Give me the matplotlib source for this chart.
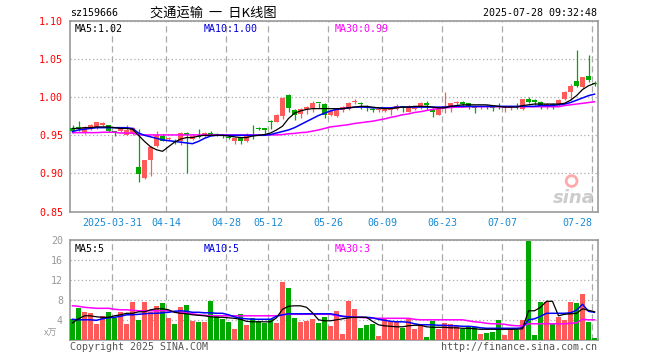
import matplotlib
matplotlib.use('Agg')
import matplotlib.pyplot as plt

# daily K-line for sz159666, 2025-03-20 .. 2025-07-28 (88 trading days)
opens = [0.959, 0.961, 0.954, 0.958, 0.961, 0.963, 0.963, 0.955, 0.955, 0.951,
         0.952, 0.908, 0.894, 0.917, 0.936, 0.949, 0.945, 0.943, 0.943, 0.953,
         0.945, 0.949, 0.950, 0.953, 0.952, 0.950, 0.948, 0.943, 0.947, 0.942,
         0.960, 0.960, 0.960, 0.969, 0.968, 0.975, 1.003, 0.983, 0.978, 0.985,
         0.986, 0.993, 0.991, 0.976, 0.975, 0.983, 0.984, 0.994, 0.992, 0.989,
         0.985, 0.983, 0.982, 0.983, 0.985, 0.988, 0.981, 0.985, 0.988, 0.993,
         0.983, 0.977, 0.986, 0.987, 0.992, 0.994, 0.992, 0.988, 0.987, 0.989,
         0.987, 0.988, 0.986, 0.986, 0.988, 0.985, 0.997, 0.996, 0.994, 0.987,
         0.991, 0.990, 0.997, 1.007, 1.021, 1.013, 1.028, 1.019]
highs = [0.963, 0.969, 0.962, 0.965, 0.968, 0.967, 0.964, 0.955, 0.960, 0.963,
         0.961, 0.958, 0.918, 0.936, 0.955, 0.952, 0.948, 0.945, 0.954, 0.954,
         0.952, 0.958, 0.954, 0.956, 0.953, 0.951, 0.949, 0.948, 0.948, 0.953,
         0.964, 0.961, 0.960, 0.970, 0.978, 1.000, 1.004, 0.984, 0.986, 0.989,
         0.995, 0.993, 0.992, 0.983, 0.985, 0.989, 0.994, 0.998, 0.994, 0.990,
         0.986, 0.987, 0.985, 0.986, 0.991, 0.989, 0.990, 0.989, 0.994, 0.995,
         0.987, 0.986, 1.007, 0.993, 0.995, 0.995, 0.993, 0.989, 0.989, 0.990,
         0.988, 0.993, 0.988, 0.988, 0.993, 0.998, 1.000, 0.997, 0.995, 0.992,
         0.992, 0.997, 1.008, 1.017, 1.062, 1.027, 1.056, 1.021]
lows = [0.953, 0.956, 0.952, 0.957, 0.958, 0.962, 0.954, 0.949, 0.954, 0.950,
        0.950, 0.889, 0.893, 0.896, 0.935, 0.942, 0.944, 0.938, 0.937, 0.900,
        0.944, 0.947, 0.948, 0.950, 0.949, 0.947, 0.945, 0.939, 0.939, 0.941,
        0.945, 0.957, 0.953, 0.958, 0.967, 0.972, 0.981, 0.970, 0.973, 0.978,
        0.981, 0.986, 0.973, 0.975, 0.974, 0.980, 0.983, 0.991, 0.985, 0.982,
        0.980, 0.981, 0.980, 0.977, 0.983, 0.980, 0.980, 0.983, 0.985, 0.983,
        0.974, 0.976, 0.979, 0.980, 0.990, 0.987, 0.985, 0.979, 0.985, 0.984,
        0.982, 0.984, 0.980, 0.983, 0.985, 0.983, 0.992, 0.990, 0.984, 0.985,
        0.985, 0.988, 0.996, 0.996, 1.014, 1.012, 1.020, 1.015]
closes = [0.955, 0.958, 0.961, 0.964, 0.967, 0.966, 0.955, 0.953, 0.959, 0.957,
          0.959, 0.899, 0.917, 0.935, 0.951, 0.943, 0.947, 0.941, 0.953, 0.951,
          0.949, 0.948, 0.953, 0.951, 0.950, 0.949, 0.947, 0.947, 0.942, 0.951,
          0.959, 0.958, 0.957, 0.967, 0.977, 0.999, 0.986, 0.977, 0.985, 0.987,
          0.992, 0.992, 0.976, 0.982, 0.984, 0.987, 0.993, 0.995, 0.991, 0.986,
          0.983, 0.985, 0.984, 0.984, 0.989, 0.986, 0.989, 0.988, 0.993, 0.990,
          0.981, 0.985, 0.988, 0.992, 0.994, 0.991, 0.989, 0.986, 0.988, 0.987,
          0.986, 0.987, 0.987, 0.987, 0.987, 0.997, 0.994, 0.994, 0.990, 0.991,
          0.989, 0.996, 1.007, 1.015, 1.015, 1.026, 1.022, 1.017]

# price moving averages
ma5 = [0.959, 0.959, 0.960, 0.960, 0.961, 0.961, 0.961, 0.960, 0.959, 0.959,
       0.958, 0.950, 0.942, 0.935, 0.931, 0.929, 0.935, 0.941, 0.945, 0.947,
       0.947, 0.949, 0.950, 0.950, 0.950, 0.950, 0.949, 0.948, 0.947, 0.947,
       0.949, 0.950, 0.951, 0.953, 0.957, 0.962, 0.972, 0.979, 0.982, 0.984,
       0.985, 0.985, 0.985, 0.985, 0.985, 0.985, 0.986, 0.987, 0.988, 0.988,
       0.987, 0.986, 0.985, 0.985, 0.986, 0.987, 0.987, 0.988, 0.988, 0.988,
       0.987, 0.986, 0.986, 0.988, 0.989, 0.990, 0.990, 0.990, 0.990, 0.990,
       0.989, 0.988, 0.987, 0.987, 0.987, 0.989, 0.990, 0.991, 0.991, 0.991,
       0.991, 0.991, 0.992, 0.996, 1.002, 1.010, 1.015, 1.018]
ma10 = [0.955, 0.957, 0.958, 0.959, 0.960, 0.960, 0.960, 0.960, 0.960, 0.960,
        0.959, 0.953, 0.950, 0.948, 0.946, 0.944, 0.943, 0.942, 0.941, 0.940,
        0.939, 0.942, 0.946, 0.949, 0.950, 0.950, 0.950, 0.950, 0.950, 0.950,
        0.950, 0.950, 0.950, 0.951, 0.953, 0.955, 0.957, 0.960, 0.964, 0.968,
        0.972, 0.976, 0.979, 0.982, 0.984, 0.985, 0.986, 0.987, 0.987, 0.987,
        0.986, 0.986, 0.986, 0.986, 0.987, 0.987, 0.987, 0.987, 0.987, 0.987,
        0.987, 0.987, 0.987, 0.988, 0.988, 0.988, 0.988, 0.988, 0.988, 0.988,
        0.988, 0.988, 0.988, 0.988, 0.988, 0.988, 0.988, 0.988, 0.989, 0.989,
        0.989, 0.990, 0.991, 0.993, 0.996, 0.999, 1.002, 1.004]
ma30 = [0.9535, 0.9535, 0.9535, 0.9535, 0.9535, 0.954, 0.954, 0.954, 0.953, 0.953,
        0.953, 0.9505, 0.9505, 0.9505, 0.9505, 0.9505, 0.9505, 0.9505, 0.9505, 0.9505,
        0.9505, 0.9505, 0.9505, 0.9505, 0.9505, 0.9505, 0.9505, 0.9505, 0.9505, 0.9505,
        0.9505, 0.9505, 0.9505, 0.9505, 0.9505, 0.951, 0.952, 0.9525, 0.9535, 0.954,
        0.9555, 0.957, 0.959, 0.961, 0.962, 0.963, 0.964, 0.9655, 0.9665, 0.9675,
        0.9685, 0.970, 0.9715, 0.9735, 0.975, 0.977, 0.978, 0.980, 0.981, 0.9825,
        0.984, 0.985, 0.986, 0.9865, 0.987, 0.987, 0.9875, 0.9875, 0.9875, 0.9875,
        0.9875, 0.9875, 0.9875, 0.9875, 0.9875, 0.9875, 0.9875, 0.9875, 0.9875, 0.9875,
        0.9875, 0.9875, 0.989, 0.990, 0.991, 0.992, 0.993, 0.994]

# volume (x 10k) and its moving averages
volumes = [4.2, 6.5, 5.7, 5.4, 3.3, 4.9, 5.7, 4.5, 5.7, 3.3,
           7.7, 4.1, 7.7, 5.7, 6.9, 7.5, 4.5, 3.3, 6.7, 7.1,
           3.9, 3.7, 3.7, 7.9, 4.9, 4.2, 3.7, 2.3, 5.3, 3.1,
           4.5, 3.9, 3.5, 4.3, 3.5, 11.7, 10.5, 4.5, 3.7, 3.9,
           4.3, 3.5, 4.7, 2.9, 5.9, 1.3, 7.9, 6.3, 2.5, 3.1,
           3.3, 0.9, 4.3, 3.9, 3.9, 2.5, 4.3, 2.3, 3.3, 0.7,
           3.9, 2.3, 3.5, 3.3, 2.9, 2.3, 2.7, 2.7, 1.3, 1.5,
           1.7, 4.1, 1.1, 2.5, 2.1, 4.1, 19.9, 1.1, 7.7, 7.7,
           3.3, 4.7, 4.1, 7.7, 7.5, 9.3, 3.7, 0.5]
vol_ma5 = [3.5, 4.3, 4.9, 4.9, 4.7, 4.6, 4.6, 4.9, 5.1, 5.4,
           5.4, 5.7, 5.7, 6.1, 6.3, 6.3, 6.1, 5.6, 5.4, 5.3,
           5.1, 5.0, 4.9, 4.7, 4.6, 4.6, 4.5, 4.4, 4.2, 3.8,
           3.7, 3.7, 3.7, 3.7, 4.5, 6.2, 6.8, 6.9, 6.9, 6.6,
           5.5, 4.1, 3.9, 3.9, 4.1, 4.3, 4.5, 4.6, 4.6, 4.6,
           3.8, 3.1, 2.9, 2.8, 2.7, 2.7, 2.9, 3.0, 3.0, 2.7,
           2.6, 2.6, 2.6, 2.5, 2.5, 2.4, 2.4, 2.3, 2.2, 2.2,
           2.2, 2.2, 2.2, 2.2, 2.2, 2.3, 5.9, 5.9, 6.6, 7.8,
           7.8, 4.9, 5.2, 5.3, 5.4, 6.3, 6.0, 5.7]
vol_ma10 = [4.2, 4.1, 4.1, 4.1, 4.0, 4.3, 4.5, 4.6, 4.8, 5.1,
            5.1, 5.2, 5.3, 5.4, 5.4, 5.5, 5.6, 5.8, 5.9, 5.8,
            5.6, 5.6, 5.5, 5.5, 5.4, 5.4, 5.1, 4.7, 4.4, 4.3,
            4.2, 4.2, 4.2, 4.2, 4.8, 5.1, 5.3, 5.3, 5.3, 5.3,
            5.3, 5.3, 5.3, 5.3, 5.1, 4.8, 4.7, 4.6, 4.6, 4.6,
            4.5, 4.2, 4.0, 3.8, 3.7, 3.7, 3.6, 3.3, 3.1, 3.1,
            3.1, 3.0, 3.0, 2.9, 2.9, 2.8, 2.8, 2.7, 2.5, 2.4,
            2.4, 2.4, 2.4, 2.4, 2.4, 2.5, 4.1, 4.3, 4.8, 5.4,
            5.4, 5.4, 5.4, 5.5, 6.0, 7.2, 5.8, 5.6]
vol_ma30 = [6.9, 6.8, 6.6, 6.5, 6.4, 6.4, 6.4, 6.2, 6.1, 6.1,
            6.0, 5.9, 5.9, 5.9, 5.9, 5.9, 5.9, 5.7, 5.5, 5.5,
            5.3, 5.1, 5.0, 4.9, 4.9, 4.9, 4.9, 4.9, 4.9, 4.9,
            4.9, 4.9, 4.9, 4.9, 4.9, 5.1, 5.2, 5.2, 5.2, 5.2,
            5.2, 5.2, 5.2, 5.2, 4.9, 4.8, 4.7, 4.6, 4.6, 4.5,
            4.4, 4.4, 4.4, 4.4, 4.4, 4.4, 4.4, 4.2, 4.1, 4.1,
            4.1, 4.1, 4.1, 4.1, 4.1, 4.1, 3.9, 3.7, 3.6, 3.4,
            3.3, 3.3, 3.2, 3.0, 2.9, 2.9, 3.3, 3.3, 3.3, 3.3,
            3.3, 3.3, 3.3, 3.4, 3.5, 4.2, 4.1, 4.1]

tick_idx = [7, 16, 26, 33, 43, 52, 62, 72, 87]
tick_labels = ['2025-03-31', '04-14', '04-28', '05-12', '05-26',
               '06-09', '06-23', '07-07', '07-28']
price_ticks = [0.85, 0.90, 0.95, 1.00, 1.05, 1.10]
vol_ticks = [4, 8, 12, 16, 20]

RED = '#ff5a5a'
GREEN = '#00a800'
MONO = 'DejaVu Sans Mono'
CJK = ['Noto Sans CJK SC', 'DejaVu Sans']
W, H = 660, 360


def fx(px):
    return px / W


def fy(py):
    return 1 - py / H


def style_axes(ax, yticks):
    for s in ax.spines.values():
        s.set_color('#999999')
        s.set_linewidth(1.2)
    ax.set_xlim(-5 / 12, len(closes) - 5 / 12)
    ax.set_xticks([i - 5 / 12 for i in tick_idx])
    ax.set_yticks(yticks)
    ax.tick_params(length=0)
    ax.grid(axis='y', color='#aaaaaa', linestyle=(0, (1, 2)), linewidth=0.9)
    ax.grid(axis='x', color='#aaaaaa', linestyle=(0, (5, 3)), linewidth=0.9)
    ax.set_axisbelow(True)


fig = plt.figure(figsize=(6.6, 3.6), dpi=100)
ax = fig.add_axes([fx(70), fy(211.5), fx(528), (211.5 - 21) / H])
axv = fig.add_axes([fx(70), fy(340.3), fx(528), 100 / H])

n = len(closes)
xs = list(range(n))
colors = [RED if closes[i] >= opens[i] else GREEN for i in xs]

# candles
ax.vlines(xs, lows, highs, colors=colors, linewidth=0.9, zorder=2)
bottoms = [min(opens[i], closes[i]) for i in xs]
heights = [max(abs(closes[i] - opens[i]), 0.0012) for i in xs]
ax.bar(xs, heights, bottom=bottoms, width=5 / 6, color=colors, linewidth=0, zorder=3)

ax.plot(xs, ma30, color='#ff00ff', linewidth=1.1, zorder=4)
ax.plot(xs, ma10, color='#0000ff', linewidth=1.1, zorder=4)
ax.plot(xs, ma5, color='#000000', linewidth=0.9, zorder=4)

style_axes(ax, price_ticks)
ax.set_ylim(0.85, 1.10)
ax.set_yticklabels(['%.2f' % v for v in price_ticks], color='#ff0000',
                   fontsize=7.2, family=MONO)
ax.set_xticklabels(tick_labels, color='#1a8ad4', fontsize=7.2, family=MONO)
ax.tick_params(axis='x', pad=5)
ax.tick_params(axis='y', pad=5)
ax.get_xticklabels()[-1].set_horizontalalignment('right')

ax.text(0.008, 0.985, 'MA5:1.02', transform=ax.transAxes, fontsize=7.2,
        family=MONO, color='black', va='top')
ax.text(fx(204 - 70) / fx(528), 0.985, 'MA10:1.00', transform=ax.transAxes,
        fontsize=7.2, family=MONO, color='#0000dd', va='top')
ax.text(fx(335 - 70) / fx(528), 0.985, 'MA30:0.99', transform=ax.transAxes,
        fontsize=7.2, family=MONO, color='#ff00ff', va='top')

# sina watermark
ax.text(0.955, 0.07, 'sina', transform=ax.transAxes, fontsize=13,
        fontweight='bold', style='italic', color='#cccccc', ha='center',
        va='center', zorder=1)
ax.scatter([0.95], [0.16], transform=ax.transAxes, s=60, facecolor='none',
           edgecolor='#ffaaaa', linewidth=2, zorder=1)

# volume panel
axv.bar(xs, volumes, width=5 / 6, color=colors, linewidth=0, zorder=3)
axv.plot(xs, vol_ma30, color='#ff00ff', linewidth=1.1, zorder=4)
axv.plot(xs, vol_ma10, color='#0000ff', linewidth=1.1, zorder=4)
axv.plot(xs, vol_ma5, color='#000000', linewidth=0.9, zorder=4)
style_axes(axv, vol_ticks)
axv.set_ylim(0, 20)
axv.set_xticklabels([])
axv.set_yticklabels([str(v) for v in vol_ticks], color='#999999',
                    fontsize=7.2, family=MONO)
axv.tick_params(axis='y', pad=5)
axv.text(0.008, 0.96, 'MA5:5', transform=axv.transAxes, fontsize=7.2,
         family=MONO, color='black', va='top')
axv.text(fx(204 - 70) / fx(528), 0.96, 'MA10:5', transform=axv.transAxes,
         fontsize=7.2, family=MONO, color='#0000dd', va='top')
axv.text(fx(335 - 70) / fx(528), 0.96, 'MA30:3', transform=axv.transAxes,
         fontsize=7.2, family=MONO, color='#ff00ff', va='top')

# header and footer texts
fig.text(fx(70), fy(13), 'sz159666', fontsize=7.2, family=MONO, va='center')
fig.text(fx(150), fy(13), '交通运输  一  日K线图', fontsize=9.5, family=CJK,
         va='center')
fig.text(fx(597), fy(13), '2025-07-28 09:32:48', fontsize=7.2, family=MONO,
         va='center', ha='right')
fig.text(fx(57), fy(333), 'x万', fontsize=6.5, family=CJK, color='#999999',
         va='center', ha='right')
fig.text(fx(70), fy(347), 'Copyright 2025 SINA.COM', fontsize=7.2,
         family=MONO, color='#555555', va='center')
fig.text(fx(597), fy(347), 'http://finance.sina.com.cn', fontsize=7.2,
         family=MONO, color='#555555', va='center', ha='right')

fig.savefig('out.png', dpi=100, facecolor='white')
